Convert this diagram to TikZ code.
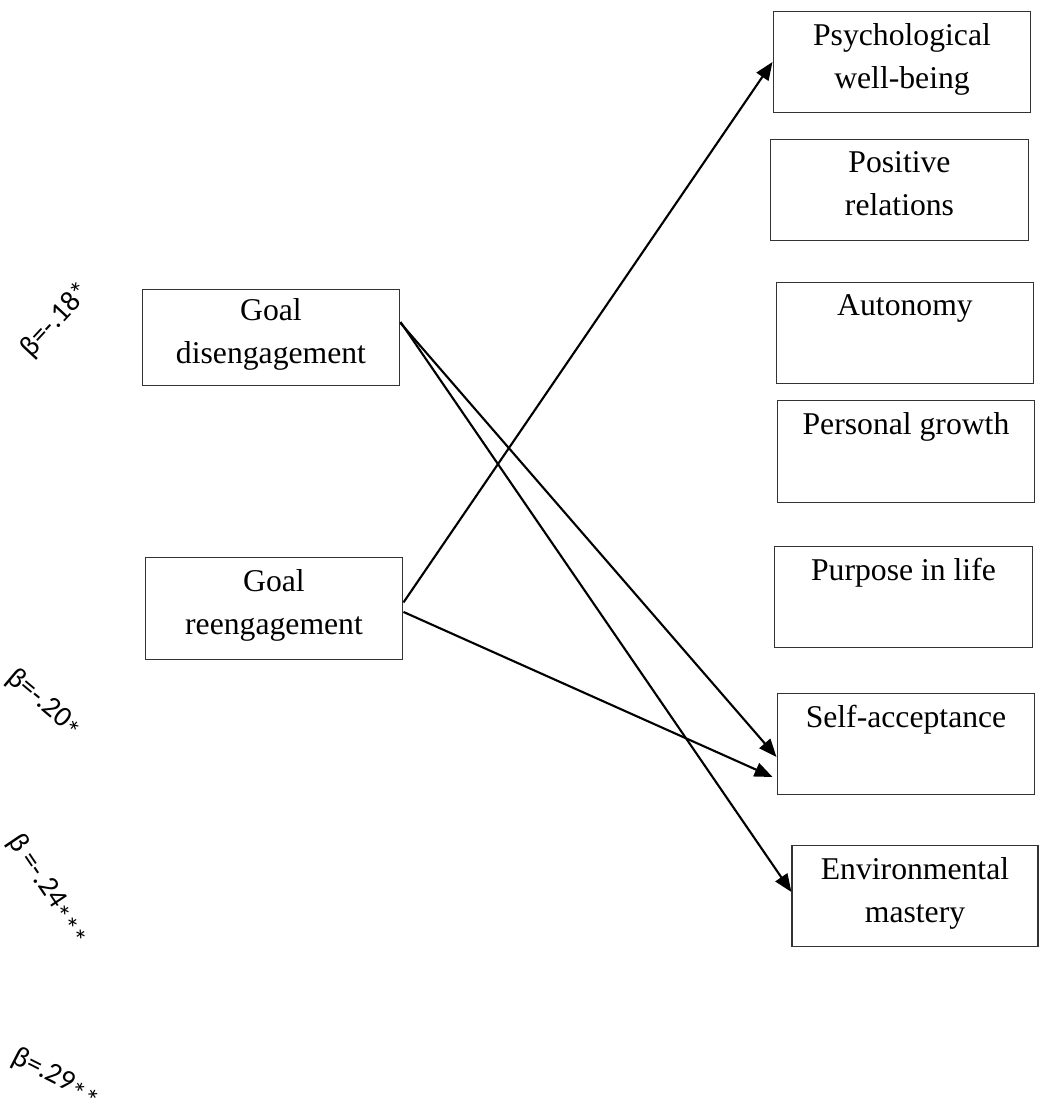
\documentclass[tikz,border=0pt]{standalone}
\usepackage{fontspec}
\setmainfont{Liberation Serif}
\newfontfamily\calfont{Carlito}
\usetikzlibrary{arrows.meta}

\begin{document}
\begin{tikzpicture}[x=0.3788pt,y=-0.3788pt,>={Triangle[length=6.8pt,width=5.4pt]},
  box/.style={draw=black!80,line width=0.4pt,inner sep=0pt,align=center,
    minimum width=97.7pt,minimum height=38.6pt,
    font=\fontsize{12}{16.3}\selectfont,
    execute at begin node=\strut,execute at end node=\strut},
  link/.style={->,line width=0.8pt},
  beta/.style={font=\calfont\fontsize{11}{13}\selectfont,inner sep=0pt}]
\useasboundingbox (0,0) rectangle (1043,1118);
% outcome boxes
\node[box] (pwb) at (902,62) {Psychological\\well-being};
\node[box] (pos) at (899.5,190) {Positive\\relations};
\node[box] (aut) at (905,333) {Autonomy\\};
\node[box] (grw) at (906,451.5) {Personal growth\\};
\node[box] (pur) at (903.5,597) {Purpose in life\\};
\node[box] (sac) at (906,744) {Self-acceptance\\};
\node[box,minimum width=93.2pt] (env) at (915,896) {Environmental\\mastery};
% predictors
\node[box,minimum height=36.7pt] (dis) at (271,337.5) {Goal\\disengagement};
\node[box] (ree) at (274,608.5) {Goal\\reengagement};
\draw[link] ([yshift=2.3pt]ree.east) -- (pwb.west);
\draw[link] ([yshift=5.5pt]dis.east) -- ([yshift=-4.9pt]sac.west);
\draw[link] ([yshift=5.9pt]dis.east) -- ([yshift=1.5pt]env.west);
\draw[link] ([yshift=-1.3pt]ree.east) -- ([xshift=-1.5pt,yshift=-12.5pt]sac.west);
% coefficients
\node[beta,rotate=47] (b1) at (56,320) {β=-.18*};
\node[beta,rotate=-40] (b2) at (44,704) {β=-.20\raisebox{-0.5ex}{*}};
\node[beta,rotate=-56] (b3) at (48,890) {β =-.24\raisebox{-0.5ex}{***}};
\node[beta,rotate=-27] (b4) at (56,1078) {β=.29\raisebox{-0.5ex}{**}};
\end{tikzpicture}
\end{document}
